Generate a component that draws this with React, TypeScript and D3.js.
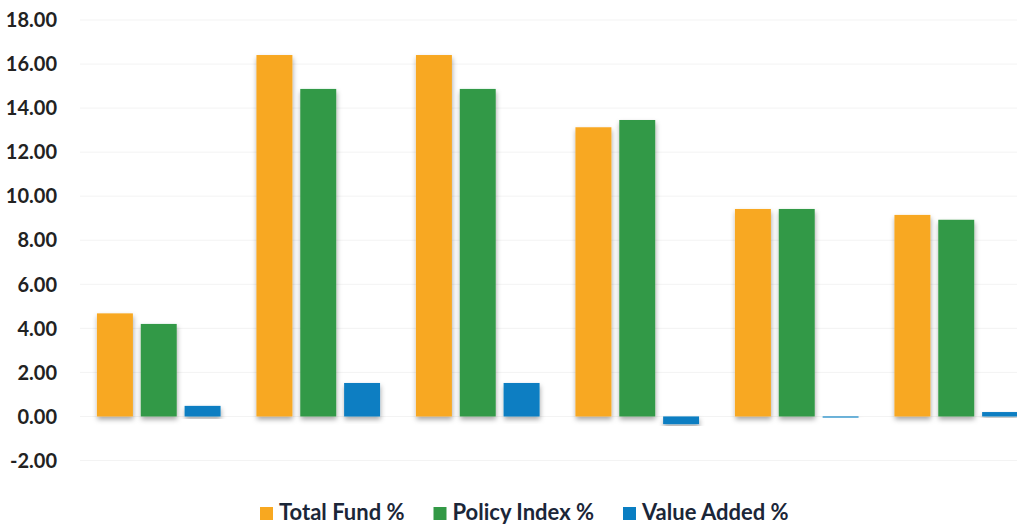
import React, { useEffect, useRef } from 'react';
import * as d3 from 'd3';

// periods (no axis labels shown in the chart)
const periods = ['P1', 'P2', 'P3', 'P4', 'P5', 'P6'];
const seriesNames = ['Total Fund %', 'Policy Index %', 'Value Added %'];
const seriesColors = ['#F8A820', '#339946', '#0A7EC2'];

const totalFund = [4.68, 16.41, 16.41, 13.13, 9.42, 9.15];
const policyIndex = [4.2, 14.87, 14.87, 13.46, 9.42, 8.93];
const valueAdded = [0.48, 1.52, 1.52, -0.35, -0.05, 0.2];

const yTicks = [-2, 0, 2, 4, 6, 8, 10, 12, 14, 16, 18];

export default function App() {
  const svgRef = useRef<SVGSVGElement>(null);

  useEffect(() => {
    const width = 1017;
    const height = 526;
    const svg = d3.select(svgRef.current);
    svg.selectAll('*').remove();
    svg.attr('width', width).attr('height', height);

    const font = 'Lato, "Open Sans", sans-serif';

    // drop shadow under bars
    const defs = svg.append('defs');
    const f = defs.append('filter').attr('id', 'shadow')
      .attr('x', '-30%').attr('y', '-10%').attr('width', '160%').attr('height', '130%');
    f.append('feDropShadow')
      .attr('dx', 0.5).attr('dy', 3).attr('stdDeviation', 2.5)
      .attr('flood-color', '#000').attr('flood-opacity', 0.35);

    const y = d3.scaleLinear().domain([-2, 18]).range([460.5, 20]);

    // the plot runs past the right edge of the image
    const x0 = d3.scaleBand<string>()
      .domain(periods)
      .range([79, 1036])
      .paddingInner(0.225)
      .paddingOuter(0.1125);

    const x1 = d3.scaleBand<string>()
      .domain(seriesNames)
      .range([0, x0.bandwidth()])
      .paddingInner(0.18);

    const color = d3.scaleOrdinal<string, string>().domain(seriesNames).range(seriesColors);

    // grid
    svg.append('g')
      .selectAll('line')
      .data(yTicks)
      .enter().append('line')
      .attr('x1', 80).attr('x2', width)
      .attr('y1', d => y(d)).attr('y2', d => y(d))
      .attr('stroke', '#f3f3f3').attr('stroke-width', 1);

    // y labels
    svg.append('g')
      .selectAll('text')
      .data(yTicks)
      .enter().append('text')
      .attr('x', 57)
      .attr('y', d => y(d))
      .attr('dy', '0.36em')
      .attr('text-anchor', 'end')
      .attr('font-family', font)
      .attr('font-weight', 700)
      .attr('font-size', 20)
      .attr('fill', '#222')
      .text(d => d.toFixed(2));

    const rows = periods.map((p, i) => ({
      period: p,
      values: [totalFund[i], policyIndex[i], valueAdded[i]].map((v, j) => ({ key: seriesNames[j], value: v })),
    }));

    const groups = svg.append('g')
      .selectAll('g')
      .data(rows)
      .enter().append('g')
      .attr('transform', d => `translate(${x0(d.period)},0)`);

    groups.selectAll('rect')
      .data(d => d.values)
      .enter().append('rect')
      .attr('x', d => x1(d.key)!)
      .attr('width', x1.bandwidth())
      .attr('y', d => y(Math.max(0, d.value)))
      .attr('height', d => Math.max(1, Math.abs(y(d.value) - y(0))))
      .attr('fill', d => color(d.key))
      .attr('filter', 'url(#shadow)');

    // legend
    const legend = svg.append('g').attr('transform', 'translate(260,0)');
    let lx = 0;
    seriesNames.forEach(name => {
      const item = legend.append('g').attr('transform', `translate(${lx},0)`);
      item.append('rect')
        .attr('x', 0).attr('y', 507)
        .attr('width', 13).attr('height', 13)
        .attr('fill', color(name));
      const t = item.append('text')
        .attr('x', 19).attr('y', 520)
        .attr('font-family', font)
        .attr('font-weight', 700)
        .attr('font-size', 22)
        .attr('fill', '#1b2638')
        .text(name);
      const w = (t.node() as SVGTextElement).getComputedTextLength();
      lx += 19 + w + 29;
    });
  }, []);

  return (
    <div style={{ position: 'absolute', left: 0, top: 0, background: '#fff' }}>
      <svg ref={svgRef} style={{ display: 'block' }}></svg>
    </div>
  );
}
